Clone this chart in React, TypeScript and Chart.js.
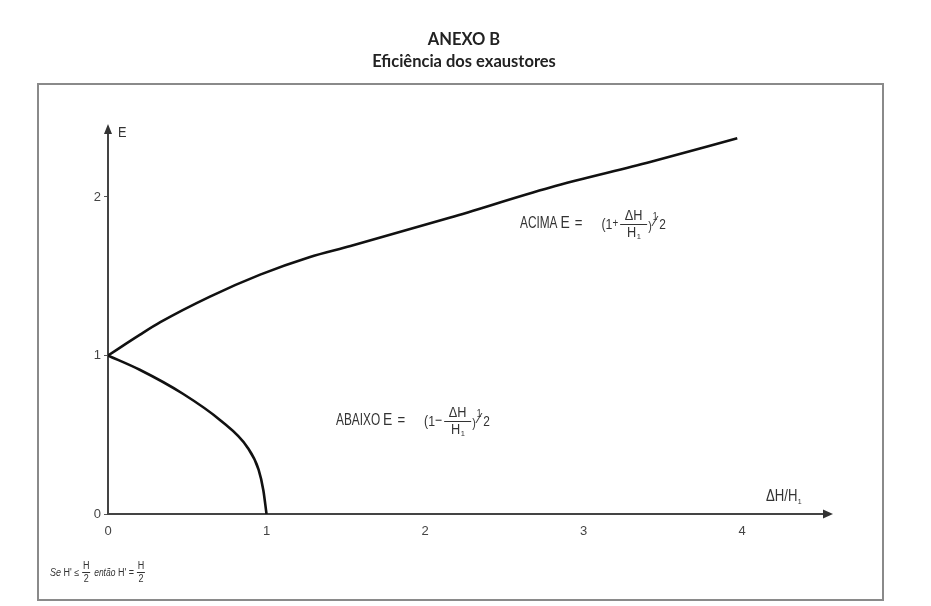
import React, { useEffect, useRef } from "react";
import { Chart, registerables } from "chart.js";

Chart.register(...registerables);

// Values
const upperX = [0, 0.2, 0.33, 0.64, 0.96, 1.27, 1.53, 2.16, 2.79, 3.42, 3.97];
const upperE = [1.0, 1.13, 1.21, 1.37, 1.51, 1.62, 1.69, 1.87, 2.06, 2.22, 2.37];
const lowerX = [0, 0.2, 0.47, 0.71, 0.88, 0.95, 0.98, 1.0];
const lowerE = [1.0, 0.91, 0.76, 0.59, 0.42, 0.28, 0.15, 0];
const xTicks = [0, 1, 2, 3, 4];
const yTicks = [0, 1, 2];
const xMax = 4.555;
const yMax = 2.435;

const titleLines = ["ANEXO B", "Eficiência dos exaustores"];

const SANS = '"Liberation Sans", Arial, sans-serif';

type TOpts = { sx?: number; align?: CanvasTextAlign; italic?: boolean; bold?: boolean; family?: string; color?: string };

function txt(ctx: CanvasRenderingContext2D, s: string, x: number, y: number, size: number, opts: TOpts = {}): number {
  const sx = opts.sx ?? 1;
  ctx.save();
  ctx.font = `${opts.italic ? "italic " : ""}${opts.bold ? "bold " : ""}${size}px ${opts.family ?? SANS}`;
  ctx.fillStyle = opts.color ?? "#333";
  ctx.textAlign = opts.align ?? "left";
  ctx.textBaseline = "middle";
  const w = ctx.measureText(s).width * sx;
  ctx.translate(x, y);
  ctx.scale(sx, 1);
  ctx.fillText(s, 0, 0);
  ctx.restore();
  return w;
}

function hline(ctx: CanvasRenderingContext2D, x0: number, x1: number, y: number) {
  ctx.save();
  ctx.strokeStyle = "#333";
  ctx.lineWidth = 1;
  ctx.beginPath();
  ctx.moveTo(x0, Math.round(y) + 0.5);
  ctx.lineTo(x1, Math.round(y) + 0.5);
  ctx.stroke();
  ctx.restore();
}

// fraction ΔH / H1, returns width
function fracDH(ctx: CanvasRenderingContext2D, x: number, y: number, size: number): number {
  const w = 27;
  const cx = x + w / 2;
  hline(ctx, x, x + w, y);
  txt(ctx, "\u0394H", cx, y - size * 0.55, size, { align: "center", sx: 0.85 });
  const hw = txt(ctx, "H", cx - 2, y + size * 0.62, size, { align: "center", sx: 0.85 });
  txt(ctx, "1", cx - 2 + hw / 2 + 0.5, y + size * 0.85, size * 0.5, {});
  return w;
}

function fracH2(ctx: CanvasRenderingContext2D, x: number, y: number, size: number): number {
  const w = 8;
  const cx = x + w / 2;
  hline(ctx, x, x + w, y);
  txt(ctx, "H", cx, y - size * 0.62, size, { align: "center", sx: 0.9 });
  txt(ctx, "2", cx, y + size * 0.72, size, { align: "center", sx: 0.9 });
  return w;
}

function half(ctx: CanvasRenderingContext2D, x: number, y: number): number {
  txt(ctx, "1", x + 1, y - 7, 10, { sx: 0.85 });
  txt(ctx, "\u2044", x + 2.5, y - 2, 14, {});
  txt(ctx, "2", x + 7.5, y + 1, 14, { sx: 0.85 });
  return 16;
}

function formula(ctx: CanvasRenderingContext2D, word: string, sign: string, x0: number, y: number) {
  let x = x0;
  x += txt(ctx, word, x, y, 16, { sx: 0.74 }) + 3;
  x += txt(ctx, "E", x, y - 1, 17, { sx: 0.82 }) + 5;
  x += txt(ctx, "=", x, y, 16, { sx: 0.82 }) + 19;
  x += txt(ctx, "(1", x, y + 1, 15, { sx: 0.82 });
  x += txt(ctx, sign, x, y, sign === "+" ? 12 : 15, { sx: 0.82 }) + 2;
  x += fracDH(ctx, x, y, 15) + 1;
  x += txt(ctx, ")", x, y + 2, 13, { sx: 0.82 });
  half(ctx, x, y);
}

const decorPlugin = {
  id: "decor",
  afterDraw(chart: any) {
    const ctx: CanvasRenderingContext2D = chart.ctx;
    const area = chart.chartArea;
    // frame
    ctx.save();
    ctx.strokeStyle = "#8a8a8a";
    ctx.lineWidth = 2;
    ctx.strokeRect(38, 84, 845, 516);
    ctx.restore();

    // titles
    txt(ctx, titleLines[0], 464, 40, 16.5, { align: "center", bold: true, family: "Lato, sans-serif", color: "#222" });
    txt(ctx, titleLines[1], 464, 62, 16.5, { align: "center", bold: true, family: "Lato, sans-serif", color: "#222" });

    // arrows
    ctx.save();
    ctx.fillStyle = "#333";
    ctx.beginPath();
    ctx.moveTo(area.left, area.top - 4);
    ctx.lineTo(area.left - 4, area.top + 6);
    ctx.lineTo(area.left + 4, area.top + 6);
    ctx.closePath();
    ctx.fill();
    ctx.beginPath();
    ctx.moveTo(area.right + 3, area.bottom);
    ctx.lineTo(area.right - 7, area.bottom - 4.5);
    ctx.lineTo(area.right - 7, area.bottom + 4.5);
    ctx.closePath();
    ctx.fill();
    ctx.restore();

    // axis labels
    txt(ctx, "E", 118, 133, 15, { sx: 0.85 });
    let ax = 766;
    ax += txt(ctx, "\u0394H/H", ax, 497, 16, { sx: 0.82 });
    txt(ctx, "1", ax + 0.5, 502, 7);

    // formulas
    formula(ctx, "ACIMA", "+", 520, 224);
    formula(ctx, "ABAIXO", "\u2212", 336, 421);

    // footnote
    const yf = 573;
    let x = 50;
    x += txt(ctx, "Se", x, yf, 10, { italic: true, sx: 0.9 }) + 2.5;
    x += txt(ctx, "H' \u2264", x, yf, 10, { sx: 0.9 }) + 3;
    x += fracH2(ctx, x, yf - 1, 10) + 4;
    x += txt(ctx, "ent\u00e3o", x, yf, 10, { italic: true, sx: 0.85 }) + 2.5;
    x += txt(ctx, "H' =", x, yf, 10, { sx: 0.9 }) + 3;
    fracH2(ctx, x, yf - 1, 10);
  },
};

export default function App() {
  const ref = useRef<HTMLCanvasElement | null>(null);
  useEffect(() => {
    if (!ref.current) return;
    const tickFont = { family: SANS, size: 13 };
    const chart = new Chart(ref.current, {
      type: "scatter",
      data: {
        datasets: [
          {
            label: "ACIMA",
            data: upperX.map((x, i) => ({ x, y: upperE[i] })),
            showLine: true,
            borderColor: "#111",
            borderWidth: 2.6,
            pointRadius: 0,
            cubicInterpolationMode: "monotone",
          },
          {
            label: "ABAIXO",
            data: lowerX.map((x, i) => ({ x, y: lowerE[i] })),
            showLine: true,
            borderColor: "#111",
            borderWidth: 2.6,
            pointRadius: 0,
            cubicInterpolationMode: "monotone",
          },
        ],
      },
      options: {
        animation: false,
        responsive: false,
        devicePixelRatio: 1,
        layout: { padding: { left: 0, right: 101, top: 128, bottom: 0 } },
        plugins: { legend: { display: false }, tooltip: { enabled: false }, title: { display: false } },
        scales: {
          x: {
            type: "linear",
            min: 0,
            max: xMax,
            afterBuildTicks: (s: any) => {
              s.ticks = xTicks.map((v) => ({ value: v }));
            },
            afterFit: (s: any) => {
              s.height = 92;
            },
            grid: { display: false },
            border: { display: true, color: "#444", width: 2 },
            ticks: { color: "#444", font: tickFont, padding: 2, maxRotation: 0 },
          },
          y: {
            type: "linear",
            min: 0,
            max: yMax,
            afterBuildTicks: (s: any) => {
              s.ticks = yTicks.map((v) => ({ value: v }));
            },
            afterFit: (s: any) => {
              s.width = 108;
            },
            grid: { display: true, drawOnChartArea: false, drawTicks: true, tickLength: 4, color: "#555", lineWidth: 1 },
            border: { display: true, color: "#444", width: 2 },
            ticks: { color: "#444", font: tickFont, padding: 3 },
          },
        },
      },
      plugins: [decorPlugin],
    } as any);
    return () => chart.destroy();
  }, []);
  return (
    <div style={{ position: "absolute", left: 0, top: 0, width: 931, height: 606, background: "#fff" }}>
      <canvas ref={ref} width={931} height={606} style={{ display: "block", width: 931, height: 606 }} />
    </div>
  );
}
